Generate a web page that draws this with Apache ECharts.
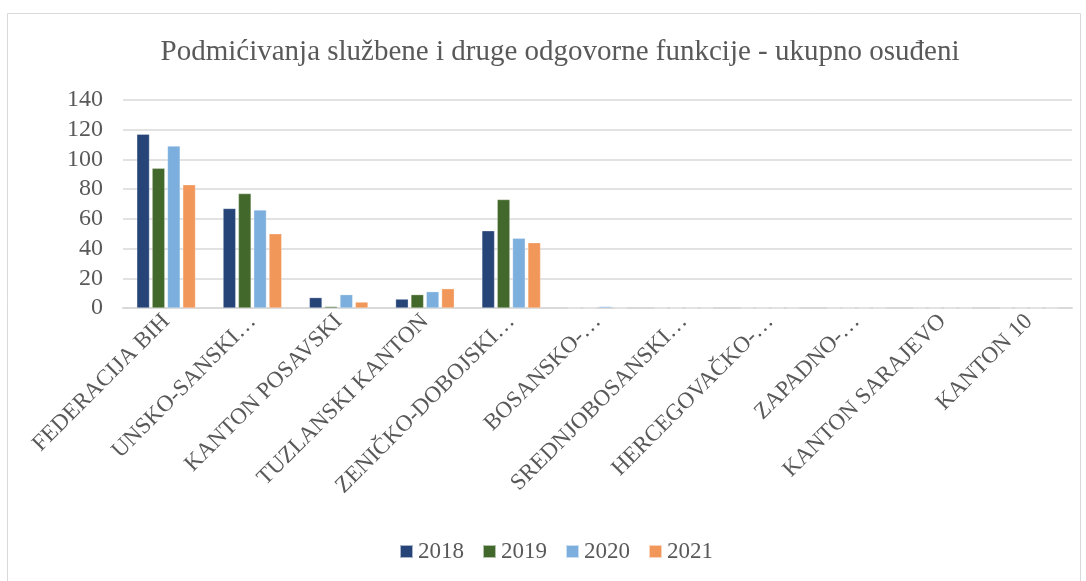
<!DOCTYPE html>
<html>
<head>
<meta charset="utf-8">
<script src="https://cdn.jsdelivr.net/npm/echarts@6/dist/echarts.min.js"></script>
<style>
  html, body { margin: 0; padding: 0; background: #fff; }
  #chart { width: 1086px; height: 581px; }
</style>
</head>
<body>
<div id="chart"></div>
<script>
// kantoni (oznake kako su prikazane na slici)
const categories = [
  'FEDERACIJA BIH', 'UNSKO-SANSKI…', 'KANTON POSAVSKI', 'TUZLANSKI KANTON',
  'ZENIČKO-DOBOJSKI…', 'BOSANSKO-…', 'SREDNJOBOSANSKI…', 'HERCEGOVAČKO-…',
  'ZAPADNO-…', 'KANTON SARAJEVO', 'KANTON 10'
]
const years = ['2018', '2019', '2020', '2021']
const values2018 = [117, 67, 7, 6, 52, 0, 0, 0, 0, 0, 0]
const values2019 = [94, 77, 1, 9, 73, 0, 0, 0, 0, 0, 0]
const values2020 = [109, 66, 9, 11, 47, 1, 0, 0, 0, 0, 0]
const values2021 = [83, 50, 4, 13, 44, 0, 0, 0, 0, 0, 0]
const yTicks = [0, 20, 40, 60, 80, 100, 120, 140]

const colors = ['#264478', '#43682B', '#7CAFDD', '#F1975A']
const allValues = [values2018, values2019, values2020, values2021]
const font = '"Liberation Serif", "Times New Roman", serif'
const textColor = '#595959'

const chart = echarts.init(document.getElementById('chart'))
const option = {
  animation: false,
  textStyle: { fontFamily: font },
  graphic: [{
    type: 'rect',
    shape: { x: 7.5, y: 13.5, width: 1073, height: 600 },
    style: { fill: 'none', stroke: '#d9d9d9', lineWidth: 1 },
    silent: true
  }],
  title: {
    text: 'Podmićivanja službene i druge odgovorne funkcije - ukupno osuđeni',
    left: 555,
    textAlign: 'center',
    top: 33,
    textStyle: { fontFamily: font, fontSize: 29, fontWeight: 'normal', color: textColor }
  },
  legend: {
    data: years,
    bottom: 13,
    left: 394,
    itemWidth: 13,
    itemHeight: 13,
    itemGap: 18,
    icon: 'rect',
    textStyle: { fontFamily: font, fontSize: 23, color: textColor }
  },
  grid: { left: 123, right: 14, top: 100, bottom: 273 },
  xAxis: {
    type: 'category',
    data: categories,
    axisLine: { lineStyle: { color: '#d9d9d9', width: 2 } },
    axisTick: { show: false },
    axisLabel: {
      rotate: 45,
      interval: 0,
      margin: 10,
      fontFamily: font,
      fontSize: 23,
      color: textColor
    }
  },
  yAxis: {
    type: 'value',
    min: yTicks[0],
    max: yTicks[yTicks.length - 1],
    interval: 20,
    axisLine: { show: false },
    axisTick: { show: false },
    splitLine: { lineStyle: { color: '#d9d9d9', width: 1.5 } },
    axisLabel: { margin: 20, fontFamily: font, fontSize: 24, color: textColor }
  },
  series: years.map((y, i) => ({
    name: y,
    type: 'bar',
    data: allValues[i],
    barGap: '21%',
    barCategoryGap: '32%',
    itemStyle: { color: colors[i], borderColor: 'rgba(255,255,255,0.6)', borderWidth: 0.5 }
  }))
}
chart.setOption(option)
</script>
</body>
</html>
